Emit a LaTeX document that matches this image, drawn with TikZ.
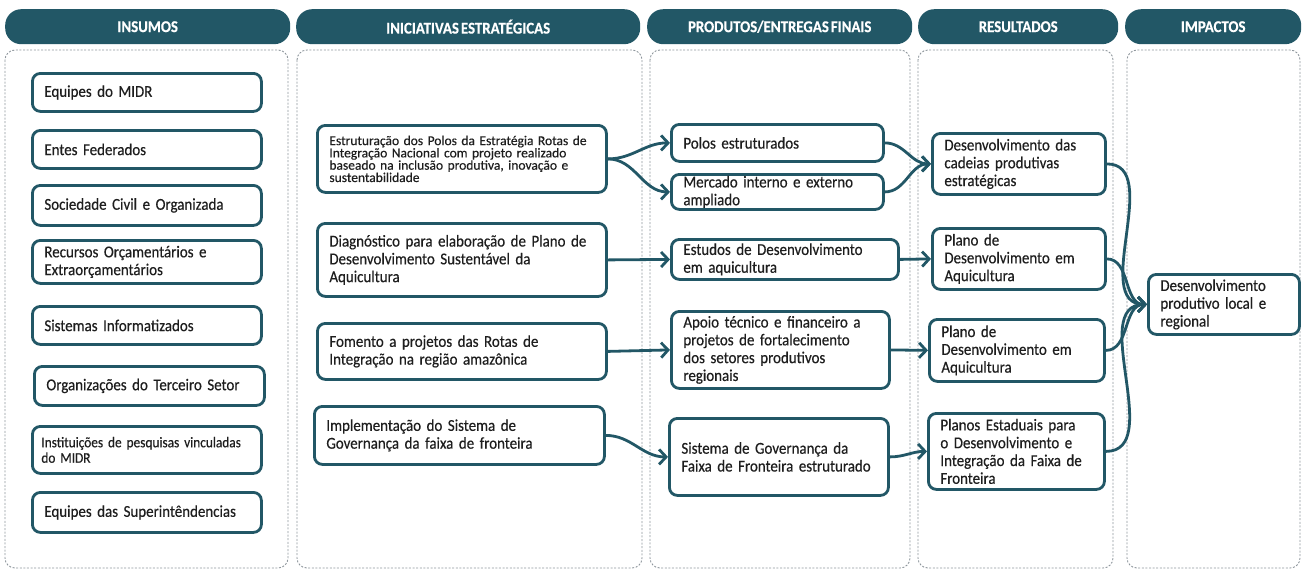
\documentclass[tikz,border=0pt]{standalone}
\usepackage{fontspec}
\setmainfont{Carlito}[FakeStretch=0.9, WordSpace=0.6, FakeBold=0.4]
\newfontfamily\largo{Carlito}[FakeBold=0.3]
\usetikzlibrary{arrows.meta}
\definecolor{petroleo}{HTML}{225766}
\definecolor{pontilhado}{HTML}{8E969C}
\definecolor{letra}{HTML}{1E1E1E}
\tikzset{
  cabecalho/.style={fill=petroleo, text=white, rounded corners=16pt, inner sep=0pt, minimum height=35pt, anchor=north west, font=\bfseries\fontsize{16.5}{17}\selectfont},
  coluna/.style={draw=pontilhado, line width=0.9pt, dash pattern=on 2pt off 1.6pt, rounded corners=10pt},
  caixa/.style={draw=petroleo, line width=2.8pt, rounded corners=8pt, fill=white, text=letra, anchor=north west, align=left, inner xsep=12pt, inner ysep=1pt, font=\fontsize{16.6}{17.8}\selectfont},
  miuda/.style={font=\largo\fontsize{13.5}{12.3}\selectfont},
  media/.style={font=\fontsize{14.8}{15.5}\selectfont},
  seta/.style={petroleo, line width=2.8pt, -{Straight Barb[length=7pt,width=15pt]}}
}
\begin{document}
\begin{tikzpicture}[x=1pt,y=-1pt]
\useasboundingbox (0,0) rectangle (1303,574);
\node[cabecalho, minimum width=285pt] (h1) at (5,9) {INSUMOS};
\node[cabecalho, minimum width=344pt] (h2) at (296,9) {INICIATIVAS ESTRATÉGICAS};
\node[cabecalho, minimum width=265pt] (h3) at (647,9) {PRODUTOS/ENTREGAS FINAIS};
\node[cabecalho, minimum width=200pt] (h4) at (918,9) {RESULTADOS};
\node[cabecalho, minimum width=176pt] (h5) at (1125,9) {IMPACTOS};
\draw[coluna] (5,50) rectangle (288,568);
\draw[coluna] (297,50) rectangle (642,568);
\draw[coluna] (650,50) rectangle (910,568);
\draw[coluna] (918,50) rectangle (1113,568);
\draw[coluna] (1127,50) rectangle (1300,568);
\node[caixa, text width=205pt, minimum height=38pt] (i1) at (31,72) {Equipes do MIDR};
\node[caixa, text width=205pt, minimum height=38pt] (i2) at (31,129) {Entes Federados};
\node[caixa, text width=205pt, minimum height=40pt] (i3) at (31,184) {Sociedade Civil e Organizada};
\node[caixa, text width=205pt, minimum height=43pt] (i4) at (31,239) {Recursos Orçamentários e\\Extraorçamentários};
\node[caixa, text width=205pt, minimum height=38pt] (i5) at (31,305) {Sistemas Informatizados};
\node[caixa, text width=206pt, minimum height=39pt] (i6) at (33,365) {Organizações do Terceiro Setor};
\node[caixa, media, inner xsep=9pt, text width=211pt, minimum height=47pt] (i7) at (31,425) {\mbox{Instituições de pesquisas vinculadas}\\do MIDR};
\node[caixa, text width=205pt, minimum height=40pt] (i8) at (31,491) {Equipes das Superintêndencias};
\node[caixa, miuda, text width=265pt, minimum height=67pt] (e1) at (316,124) {Estruturação dos Polos da Estratégia Rotas de\\Integração Nacional com projeto realizado\\baseado na inclusão produtiva, inovação e\\sustentabilidade};
\node[caixa, text width=265pt, minimum height=73pt] (e2) at (316,222) {Diagnóstico para elaboração de Plano de\\Desenvolvimento Sustentável da\\Aquicultura};
\node[caixa, text width=265pt, minimum height=56pt] (e3) at (316,322) {Fomento a projetos das Rotas de\\Integração na região amazônica};
\node[caixa, text width=266pt, minimum height=58pt] (e4) at (313,405) {Implementação do Sistema de\\Governança da faixa de fronteira};
\node[caixa, text width=188pt, minimum height=37pt] (p1) at (670,123) {Polos estruturados};
\node[caixa, text width=188pt, minimum height=35pt] (p2) at (670,173) {Mercado interno e externo\\ampliado};
\node[caixa, text width=203pt, minimum height=40pt] (p3) at (670,238) {Estudos de Desenvolvimento\\em aquicultura};
\node[caixa, text width=194pt, minimum height=77pt] (p4) at (670,310) {Apoio técnico e financeiro a\\projetos de fortalecimento\\dos setores produtivos\\regionais};
\node[caixa, text width=195pt, minimum height=77pt] (p5) at (668,417) {Sistema de Governança da\\Faixa de Fronteira estruturado};
\node[caixa, text width=149pt, minimum height=61pt] (r1) at (931,132) {Desenvolvimento das\\cadeias produtivas\\estratégicas};
\node[caixa, text width=149pt, minimum height=61pt] (r2) at (931,227) {Plano de\\Desenvolvimento em\\Aquicultura};
\node[caixa, text width=151pt, minimum height=62pt] (r3) at (928,318) {Plano de\\Desenvolvimento em\\Aquicultura};
\node[caixa, text width=152pt, minimum height=76pt] (r4) at (927,412) {Planos Estaduais para\\o Desenvolvimento e\\Integração da Faixa de\\Fronteira};
\node[caixa, text width=127pt, minimum height=60pt] (m1) at (1147,273) {Desenvolvimento\\produtivo local e\\regional};
\draw[seta] (e1.east) to[out=0,in=180] (p1.west);
\draw[seta] (e1.east) to[out=0,in=180] (p2.west);
\draw[seta] (e2.east) -- (p3.west);
\draw[seta] (e3.east) -- (p4.west);
\draw[seta] (e4.east) to[out=0,in=180] (p5.west);
\draw[seta] (p1.east) to[out=0,in=180] (r1.west);
\draw[seta] (p2.east) to[out=0,in=180] (r1.west);
\draw[seta] (p3.east) -- (r2.west);
\draw[seta] (p4.east) -- (r3.west);
\draw[seta] (p5.east) to[out=0,in=180] (r4.west);
\draw[seta] (r1.east) to[out=0,in=180] (m1.west);
\draw[seta] (r2.east) to[out=0,in=180] (m1.west);
\draw[seta] (r3.east) to[out=0,in=180] (m1.west);
\draw[seta] (r4.east) to[out=0,in=180] (m1.west);
\end{tikzpicture}
\end{document}
